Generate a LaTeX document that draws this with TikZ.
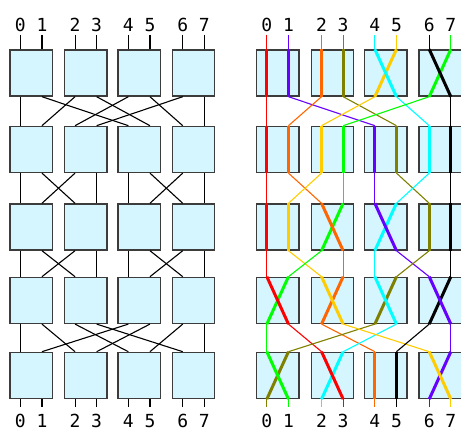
\documentclass[tikz,border=0pt]{standalone}
\usepackage{fontspec}
\newfontfamily\lblfont{DejaVu Sans Mono}
\definecolor{boxfill}{HTML}{D5F5FF}
\definecolor{boxline}{HTML}{3C3C3C}
\definecolor{cR}{HTML}{FF0000}
\definecolor{cP}{HTML}{6600FF}
\definecolor{cO}{HTML}{FF6600}
\definecolor{cV}{HTML}{808000}
\definecolor{cC}{HTML}{00FFFF}
\definecolor{cY}{HTML}{FFCC00}
\definecolor{cK}{HTML}{000000}
\definecolor{cG}{HTML}{00FF00}
\newcommand\segUnder[4]{\ifnum#4>#3\relax\else\draw[sigbox,#1] (R#2-#3-t) -- (R#2-#4-b);\fi}
\newcommand\segOver[4]{\ifnum#4>#3\relax\draw[sigbox,#1] (R#2-#3-t) -- (R#2-#4-b);\fi}
\def\siglist{cR/0/0/0/0/0/0/0/1/2/3,
  cP/1/1/4/4/4/5/6/7/7/6,
  cO/2/2/1/1/2/3/3/2/4/4,
  cV/3/3/5/5/6/6/5/4/1/0,
  cC/4/5/6/6/5/4/4/5/3/2,
  cY/5/4/2/2/1/1/2/3/6/7,
  cK/6/7/7/7/7/7/7/6/5/5,
  cG/7/6/3/3/3/2/1/0/0/1}
\begin{document}
\begin{tikzpicture}[x=1pt,y=-1pt,
  swbox/.style={draw=boxline,fill=boxfill,line width=1.4pt,minimum width=42.3pt,minimum height=46pt,inner sep=0pt,anchor=north west},
  lbl/.style={font=\lblfont\fontsize{18}{20}\selectfont,anchor=base,inner sep=0pt},
  wire/.style={black,line width=1.1pt},
  siglink/.style={line width=1.1pt},
  sigbox/.style={line width=3pt},
]
\useasboundingbox (0,0) rectangle (461,430);
% boxes
\foreach \cc/\xx in {0/9.3,1/64,2/117.3,3/171.7}
 \foreach \rr/\yy in {0/49.3,1/125.7,2/203.3,3/276.7,4/351.7} {
   \node[swbox] (L\rr\cc) at (\xx,\yy) {};
   \node[swbox] (R\rr\cc) at (\xx+246.5,\yy) {};
 }
% ports
\foreach \nn in {L,R}
 \foreach \rr in {0,...,4}
  \foreach \cc in {0,...,3} {
   \pgfmathtruncatemacro{\pa}{2*\cc}
   \pgfmathtruncatemacro{\pb}{2*\cc+1}
   \coordinate (\nn\rr-\pa-t) at ([xshift=-10.8pt]\nn\rr\cc.north);
   \coordinate (\nn\rr-\pb-t) at ([xshift=10.8pt]\nn\rr\cc.north);
   \coordinate (\nn\rr-\pa-b) at ([xshift=-10.8pt]\nn\rr\cc.south);
   \coordinate (\nn\rr-\pb-b) at ([xshift=10.8pt]\nn\rr\cc.south);
  }
% labels and stub ends
\foreach \nn in {L,R}
 \foreach \p in {0,...,7} {
   \node[lbl] (\nn top\p) at (\nn0-\p-t |- 0,31.7) {\p};
   \node[lbl] (\nn bot\p) at (\nn4-\p-b |- 0,427.5) {\p};
   \coordinate (\nn in\p) at (\nn0-\p-t |- 0,35);
   \coordinate (\nn out\p) at (\nn4-\p-b |- 0,407);
 }
% left network wiring
\foreach \p in {0,...,7} {
  \draw[wire] (Lin\p) -- (L0-\p-t);
  \draw[wire] (L4-\p-b) -- (Lout\p);
}
\foreach \p/\q in {0/0,1/4,2/1,3/5,4/2,5/6,6/3,7/7}
  \draw[wire] (L0-\p-b) -- (L1-\q-t);
\foreach \p/\q in {0/0,1/2,2/1,3/3,4/4,5/6,6/5,7/7} {
  \draw[wire] (L1-\p-b) -- (L2-\q-t);
  \draw[wire] (L2-\p-b) -- (L3-\q-t);
}
\foreach \p/\q in {0/0,1/2,2/4,3/6,4/1,5/3,6/5,7/7}
  \draw[wire] (L3-\p-b) -- (L4-\q-t);
% right network signals: links and lower thick segments
\foreach \cl/\qa/\qb/\qc/\qd/\qe/\qf/\qg/\qh/\qi/\qj in \siglist {
  \draw[siglink,\cl] (Rin\qa) -- (R0-\qa-t);
  \draw[siglink,\cl] (R0-\qb-b) -- (R1-\qc-t);
  \draw[siglink,\cl] (R1-\qd-b) -- (R2-\qe-t);
  \draw[siglink,\cl] (R2-\qf-b) -- (R3-\qg-t);
  \draw[siglink,\cl] (R3-\qh-b) -- (R4-\qi-t);
  \draw[siglink,\cl] (R4-\qj-b) -- (Rout\qj);
  \segUnder{\cl}{0}{\qa}{\qb}
  \segUnder{\cl}{1}{\qc}{\qd}
  \segUnder{\cl}{2}{\qe}{\qf}
  \segUnder{\cl}{3}{\qg}{\qh}
  \segUnder{\cl}{4}{\qi}{\qj}
}
% thick segments running left to right lie on top
\foreach \cl/\qa/\qb/\qc/\qd/\qe/\qf/\qg/\qh/\qi/\qj in \siglist {
  \segOver{\cl}{0}{\qa}{\qb}
  \segOver{\cl}{1}{\qc}{\qd}
  \segOver{\cl}{2}{\qe}{\qf}
  \segOver{\cl}{3}{\qg}{\qh}
  \segOver{\cl}{4}{\qi}{\qj}
}
\end{tikzpicture}
\end{document}
